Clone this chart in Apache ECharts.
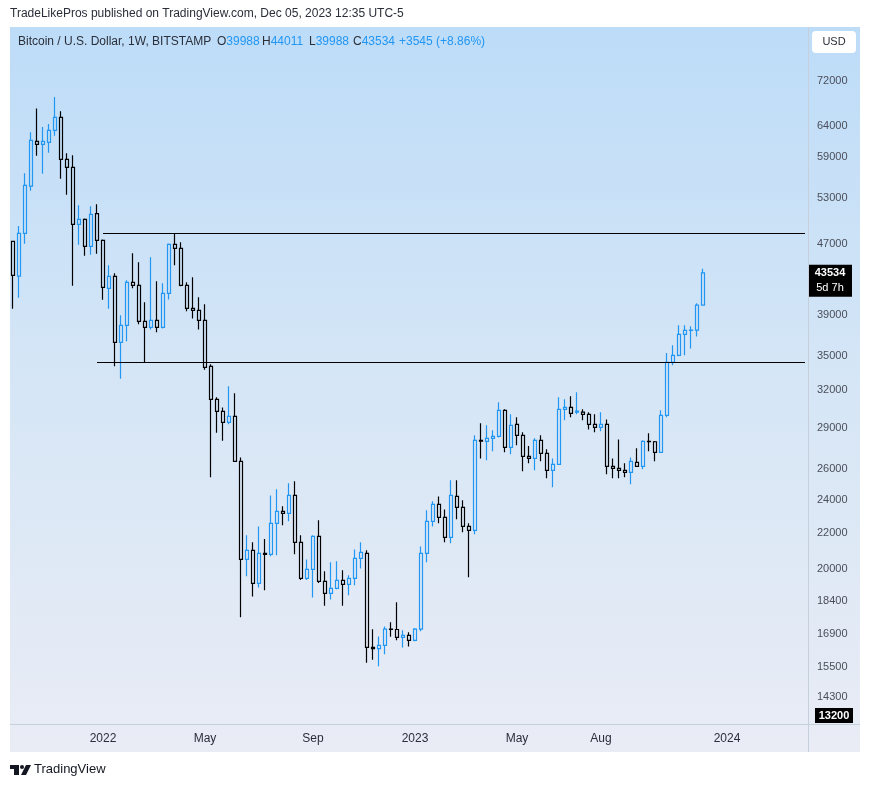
<!DOCTYPE html>
<html>
<head>
<meta charset="utf-8">
<title>BTCUSD 1W</title>
<script src="https://cdn.jsdelivr.net/npm/echarts@6/dist/echarts.min.js"></script>
<style>
  html, body { margin: 0; padding: 0; background: #ffffff; }
  #main { width: 870px; height: 787px; }
</style>
</head>
<body>
<div id="main"></div>
<script>
// weekly candles, Bitstamp BTC/USD, first bar = week of 2021-09-20
const weekStart = '2021-09-20';
const futureWeeks = 17;

const opens = [
  47285, 43150, 48285, 54650, 61465, 60979, 61303, 63265, 65447, 58610,
  57400, 49439, 50074, 46665, 50849, 47409, 41790, 43131, 36278, 37930,
  42462, 42126, 38334, 37728, 38435, 37728, 41254, 46913, 46417, 42126,
  39657, 39456, 38435, 34060, 31231, 30272, 29411, 29872, 26551, 20528,
  21023, 19279, 20858, 20800, 22564, 23289, 23167, 24281, 21468, 19532,
  19993, 21808, 19381, 18779, 19024, 19432, 19228, 19532, 20584, 20858,
  16294, 16240, 16382, 17096, 17080, 16729, 16818, 16602, 17096, 20858,
  22684, 23717, 22923, 21750, 24216, 23528, 22384, 22156, 28055, 27981,
  28203, 28345, 30352, 27537, 29255, 28421, 26897, 26752, 28055, 27113,
  25932, 26341, 30420, 30584, 30200, 30200, 30032, 29255, 29021, 29255,
  26201, 26068, 25932, 25796, 26481, 26201, 27981, 27950, 27185, 29956,
  34424, 35061, 37048, 37440, 37460, 39988
];
const highs = [
  47300, 49216, 56514, 62933, 67005, 63810, 64320, 69032, 66497, 59558,
  59242, 51980, 50209, 51826, 52102, 47500, 44396, 43476, 38936, 42686,
  45819, 44750, 40293, 45335, 42574, 42350, 47000, 48285, 47161, 42462,
  43016, 40818, 40081, 34242, 31400, 30584, 32321, 31735, 26825, 21866,
  21468, 22384, 21654, 24281, 24667, 23591, 25063, 25195, 21866, 20528,
  21866, 22744, 19896, 20371, 20425, 19948, 19688, 21069, 21468, 21023,
  17096, 16773, 17220, 17404, 18344, 17044, 16954, 17142, 21240, 23350,
  23906, 24216, 23402, 25261, 25261, 23969, 22564, 28421, 29333, 29177,
  28801, 30994, 30440, 30032, 29802, 28649, 27645, 28203, 28421, 27401,
  26752, 31399, 31245, 31483, 31819, 30440, 30192, 30032, 30192, 29632,
  26752, 28110, 26411, 26825, 27473, 28055, 28573, 28000, 30352, 35275,
  35990, 37929, 37929, 37829, 40187, 44011
];
const lows = [
  39615, 40775, 46987, 53996, 59178, 56454, 59652, 62369, 55704, 53428,
  42082, 46863, 45528, 45649, 45770, 40557, 39615, 34060, 32971, 36374,
  41790, 38031, 34424, 37526, 37244, 37627, 40600, 44396, 42014, 39352,
  38624, 37526, 33751, 25456, 28619, 28025, 29255, 26500, 17633, 19636,
  18629, 19075, 18929, 20700, 20748, 22444, 22684, 20803, 19450, 19450,
  18579, 19300, 18180, 18479, 18979, 18180, 18679, 19177, 20047, 15655,
  15778, 15508, 16004, 16755, 16602, 16294, 16338, 16558, 17000, 20371,
  22384, 22564, 21468, 21411, 22801, 22040, 19584, 21924, 26752, 26621,
  27257, 28270, 27185, 27041, 27685, 25864, 26411, 25932, 26551, 25394,
  24801, 26300, 29567, 29802, 30032, 29567, 28864, 28649, 28725, 25660,
  25394, 25394, 25462, 25001, 26150, 26000, 27257, 26551, 27150, 29800,
  34149, 34968, 35061, 35702, 36825, 39988
];
const closes = [
  43246, 48285, 54759, 61627, 60979, 61465, 63265, 65447, 58610, 57400,
  49439, 50074, 46665, 50749, 47409, 41902, 43131, 36278, 37930, 42462,
  42126, 38334, 37728, 38435, 37728, 41254, 46913, 46417, 42126, 39657,
  39456, 38435, 33969, 31231, 30272, 29411, 29872, 26551, 20528, 21023,
  19279, 20858, 20800, 22564, 23289, 23167, 24281, 21468, 19532, 19993,
  21808, 19381, 18779, 19024, 19432, 19228, 19532, 20584, 20913, 16294,
  16240, 16382, 17096, 17080, 16729, 16818, 16602, 17096, 20858, 22684,
  23717, 22923, 21750, 24281, 23528, 22384, 22156, 28055, 28000, 28203,
  28345, 30352, 27537, 29177, 28421, 26897, 26752, 28055, 27113, 25932,
  26341, 30420, 30584, 30112, 30290, 30032, 29255, 29021, 29255, 26201,
  26068, 25932, 25796, 26551, 26201, 27981, 27950, 27185, 29956, 34424,
  35061, 37048, 37440, 37460, 39988, 43534
];

// horizontal levels drawn on the chart
const levelValues = [48280, 34420];
const levelStarts = ['2022-01-03', '2021-12-27'];

const priceTicks = [72000, 64000, 59000, 53000, 47000, 39000, 35000, 32000,
  29000, 26000, 24000, 22000, 20000, 18400, 16900, 15500, 14300];
const timeTickDates = ['2022-01-03', '2022-05-02', '2022-09-05', '2023-01-02',
  '2023-05-01', '2023-08-07', '2024-01-01'];
const timeTickLabels = ['2022', 'May', 'Sep', '2023', 'May', 'Aug', '2024'];

const FONT = '"Liberation Sans", "Noto Sans", sans-serif';
const BLUE = '#2196f3';

const weeks = [];
const t0 = Date.parse(weekStart + 'T00:00:00Z');
for (let i = 0; i < opens.length + futureWeeks; i++) {
  weeks.push(new Date(t0 + i * 7 * 86400000).toISOString().slice(0, 10));
}
const tickMap = {};
timeTickDates.forEach((d, k) => { tickMap[d] = timeTickLabels[k]; });

const candles = opens.map((o, i) => [o, closes[i], lows[i], highs[i]]);
const last = candles.length - 1;

const chart = echarts.init(document.getElementById('main'));

const baseGraphic = [
  {
    type: 'rect', id: 'bg', z: -10, silent: true,
    shape: { x: 10, y: 27, width: 850, height: 725 },
    style: {
      fill: new echarts.graphic.LinearGradient(0, 0, 0, 1, [
        { offset: 0, color: '#bddcf8' },
        { offset: 0.5, color: '#d6e6f6' },
        { offset: 1, color: '#e9ecf5' }
      ])
    }
  },
  { type: 'line', id: 'sepV', z: 1, silent: true,
    shape: { x1: 808.5, y1: 27, x2: 808.5, y2: 752 },
    style: { stroke: '#c6cfdc', lineWidth: 1 } },
  { type: 'line', id: 'sepH', z: 1, silent: true,
    shape: { x1: 10, y1: 724.5, x2: 860, y2: 724.5 },
    style: { stroke: '#c6cfdc', lineWidth: 1 } },
  { type: 'text', id: 'pub', left: 10, top: 8,
    style: { text: 'TradeLikePros published on TradingView.com, Dec 05, 2023 12:35 UTC-5',
      fill: '#2a2e39', font: '12px ' + FONT } },
  { type: 'text', id: 'sym', x: 18, y: 36,
    style: { text: 'Bitcoin / U.S. Dollar, 1W, BITSTAMP', fill: '#2a2e39', font: '12px ' + FONT } },
  { type: 'text', id: 'o', x: 217, y: 36,
    style: { text: '{k|O}{v|' + opens[last] + '}', rich: { k: { fill: '#2a2e39', font: '12px ' + FONT }, v: { fill: BLUE, font: '12px ' + FONT } } } },
  { type: 'text', id: 'h', x: 262, y: 36,
    style: { text: '{k|H}{v|' + highs[last] + '}', rich: { k: { fill: '#2a2e39', font: '12px ' + FONT }, v: { fill: BLUE, font: '12px ' + FONT } } } },
  { type: 'text', id: 'l', x: 309, y: 36,
    style: { text: '{k|L}{v|' + lows[last] + '}', rich: { k: { fill: '#2a2e39', font: '12px ' + FONT }, v: { fill: BLUE, font: '12px ' + FONT } } } },
  { type: 'text', id: 'c', x: 353, y: 36,
    style: { text: '{k|C}{v|' + closes[last] + '}', rich: { k: { fill: '#2a2e39', font: '12px ' + FONT }, v: { fill: BLUE, font: '12px ' + FONT } } } },
  { type: 'text', id: 'chg', x: 399, y: 36,
    style: { text: '+3545 (+8.86%)', fill: BLUE, font: '12px ' + FONT } },
  { type: 'rect', id: 'usdBox', shape: { x: 812, y: 31, width: 44, height: 22, r: 4 },
    style: { fill: '#ffffff' } },
  { type: 'text', id: 'usd', x: 834, y: 42,
    style: { text: 'USD', fill: '#2a2e39', font: '11px ' + FONT, align: 'center', verticalAlign: 'middle' } },
  { type: 'rect', id: 'lowBox', shape: { x: 815, y: 708, width: 38, height: 15 },
    style: { fill: '#000000' } },
  { type: 'text', id: 'lowTxt', x: 834, y: 715.5,
    style: { text: '13200', fill: '#ffffff', font: 'bold 11px ' + FONT, align: 'center', verticalAlign: 'middle' } },
  // TradingView logo
  { type: 'rect', id: 'lg1', shape: { x: 10, y: 765, width: 9, height: 4 }, style: { fill: '#131722' } },
  { type: 'rect', id: 'lg2', shape: { x: 14, y: 765, width: 5, height: 10 }, style: { fill: '#131722' } },
  { type: 'circle', id: 'lg3', shape: { cx: 22, cy: 767, r: 2 }, style: { fill: '#131722' } },
  { type: 'polygon', id: 'lg4', shape: { points: [[26, 765], [31, 765], [26, 775], [21, 775]] }, style: { fill: '#131722' } },
  { type: 'text', id: 'tv', x: 34, y: 763,
    style: { text: 'TradingView', fill: '#131722', font: '13px ' + FONT } }
];

chart.setOption({
  animation: false,
  backgroundColor: '#ffffff',
  textStyle: { fontFamily: FONT },
  grid: { left: 10, right: 62, top: 27, bottom: 63, containLabel: false },
  xAxis: {
    type: 'category',
    data: weeks,
    boundaryGap: true,
    axisLine: { show: false },
    axisTick: { show: false },
    splitLine: { show: false },
    axisLabel: {
      color: '#2a2e39',
      fontSize: 12,
      margin: 9,
      interval: (idx, val) => tickMap[val] !== undefined,
      formatter: (val) => tickMap[val] || ''
    }
  },
  yAxis: {
    type: 'log',
    logBase: 10,
    position: 'right',
    min: 13330,
    max: 82950,
    axisLine: { show: false },
    axisTick: { show: false },
    splitLine: { show: false },
    axisLabel: {
      customValues: priceTicks,
      color: '#4a4e59',
      fontSize: 11,
      margin: 9,
      formatter: (v) => String(Math.round(v))
    }
  },
  series: [{
    type: 'candlestick',
    name: 'BTCUSD',
    data: candles,
    barWidth: 4,
    silent: true,
    itemStyle: {
      color: 'transparent',
      color0: 'transparent',
      borderColor: BLUE,
      borderColor0: '#000000',
      borderWidth: 1.2
    },
    markLine: {
      silent: true,
      symbol: ['none', 'none'],
      label: { show: false },
      lineStyle: { color: '#000000', width: 1, type: 'solid' },
      data: levelValues.map((v, k) => [
        { coord: [levelStarts[k], v] },
        { coord: [weeks[weeks.length - 1], v] }
      ])
    }
  }],
  graphic: baseGraphic
});

// last price tag on the price scale
const py = chart.convertToPixel({ yAxisIndex: 0 }, closes[last]);
chart.setOption({
  graphic: baseGraphic.concat([
    { type: 'rect', id: 'lastBox', shape: { x: 808, y: py - 8, width: 44, height: 32 },
      style: { fill: '#000000' } },
    { type: 'text', id: 'lastTxt', x: 830, y: py,
      style: { text: String(closes[last]), fill: '#ffffff', font: 'bold 11px ' + FONT, align: 'center', verticalAlign: 'middle' } },
    { type: 'text', id: 'lastTime', x: 830, y: py + 15,
      style: { text: '5d 7h', fill: '#ffffff', font: '11px ' + FONT, align: 'center', verticalAlign: 'middle' } }
  ])
});
</script>
</body>
</html>
